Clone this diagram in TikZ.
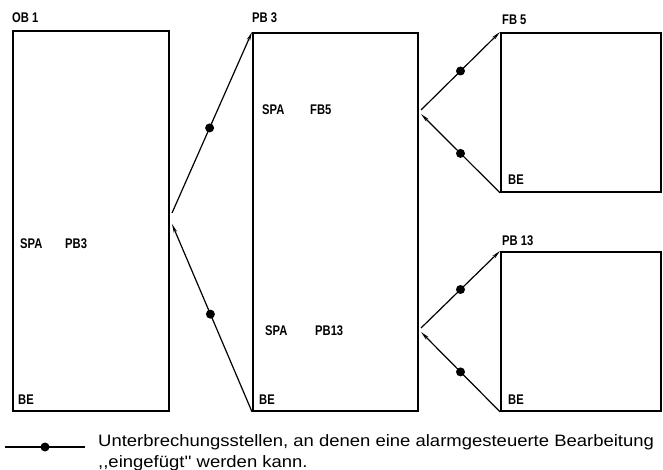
\documentclass[tikz,border=0pt]{standalone}
\usepackage{fontspec}
\setmainfont{Liberation Sans}
\newfontfamily\lblfont[FakeStretch=0.8]{Liberation Sans}
\newfontfamily\legfont[FakeStretch=1.12]{Liberation Sans}
\usetikzlibrary{arrows.meta}
\begin{document}
\begin{tikzpicture}[x=1pt,y=-1pt,
  blk/.style={draw,line width=1.8pt},
  lbl/.style={font=\lblfont\bfseries\fontsize{14}{15}\selectfont,inner sep=0pt,anchor=base west},
  leg/.style={font=\legfont\fontsize{16.5}{18}\selectfont,inner sep=0pt,anchor=base west},
  conn/.style={line width=1.2pt,-{Stealth[length=9pt,width=3.5pt]}},
  ipt/.style={circle,fill=black,inner sep=0pt,minimum size=9pt}]
\useasboundingbox (0,0) rectangle (663,470);
% boxes
\node[blk,minimum width=156pt,minimum height=380pt,inner sep=0pt,anchor=north west] (ob1) at (12,30) {};
\node[blk,minimum width=165pt,minimum height=378pt,inner sep=0pt,anchor=north west] (pb3) at (252,32) {};
\node[blk,minimum width=160pt,minimum height=159pt,inner sep=0pt,anchor=north west] (fb5) at (500,32) {};
\node[blk,minimum width=160pt,minimum height=159pt,inner sep=0pt,anchor=north west] (pb13) at (500,251) {};
% titles
\node[lbl] (tob1) at (12,23) {OB 1};
\node[lbl] (tpb3) at (252,23) {PB 3};
\node[lbl] (tfb5) at (502,25) {FB 5};
\node[lbl] (tpb13) at (502,245) {PB 13};
% BE
\node[lbl] (be1) at (18,404) {BE};
\node[lbl] (be2) at (259,404) {BE};
\node[lbl] (be3) at (508,185) {BE};
\node[lbl] (be4) at (508,404) {BE};
% SPA
\node[lbl] (s1) at (20,248) {SPA};
\node[lbl] (s1b) at (65,248) {PB3};
\node[lbl] (s2) at (262,115) {SPA};
\node[lbl] (s2b) at (310,115) {FB5};
\node[lbl] (s3) at (265,335) {SPA};
\node[lbl] (s3b) at (315,335) {PB13};
% connection points
\coordinate (a1) at (172,213);
\coordinate (a2) at (172,224);
\coordinate (b1) at (421,110);
\coordinate (b2) at (421,114);
\coordinate (c1) at (421,328);
\coordinate (c2) at (421,332);
% connectors
\draw[conn] (a1) -- (pb3.north west) node[ipt,pos=0.47] (d1) {};
\draw[conn] (pb3.south west) -- (a2) node[ipt,pos=0.52] (d2) {};
\draw[conn] (b1) -- (fb5.north west) node[ipt,pos=0.5] (d3) {};
\draw[conn] (fb5.south west) -- (b2) node[ipt,pos=0.5] (d4) {};
\draw[conn] (c1) -- (pb13.north west) node[ipt,pos=0.5] (d5) {};
\draw[conn] (pb13.south west) -- (c2) node[ipt,pos=0.5] (d6) {};
% legend
\coordinate (l1) at (5,447);
\coordinate (l2) at (85,447);
\draw[line width=1.2pt] (l1) -- (l2) node[ipt,pos=0.5] (ld) {};
\node[leg] (leg1) at (98,446) {Unterbrechungsstellen, an denen eine alarmgesteuerte Bearbeitung};
\node[leg] (leg2) at (98,467) {,,eingefügt'' werden kann.};
\end{tikzpicture}
\end{document}
